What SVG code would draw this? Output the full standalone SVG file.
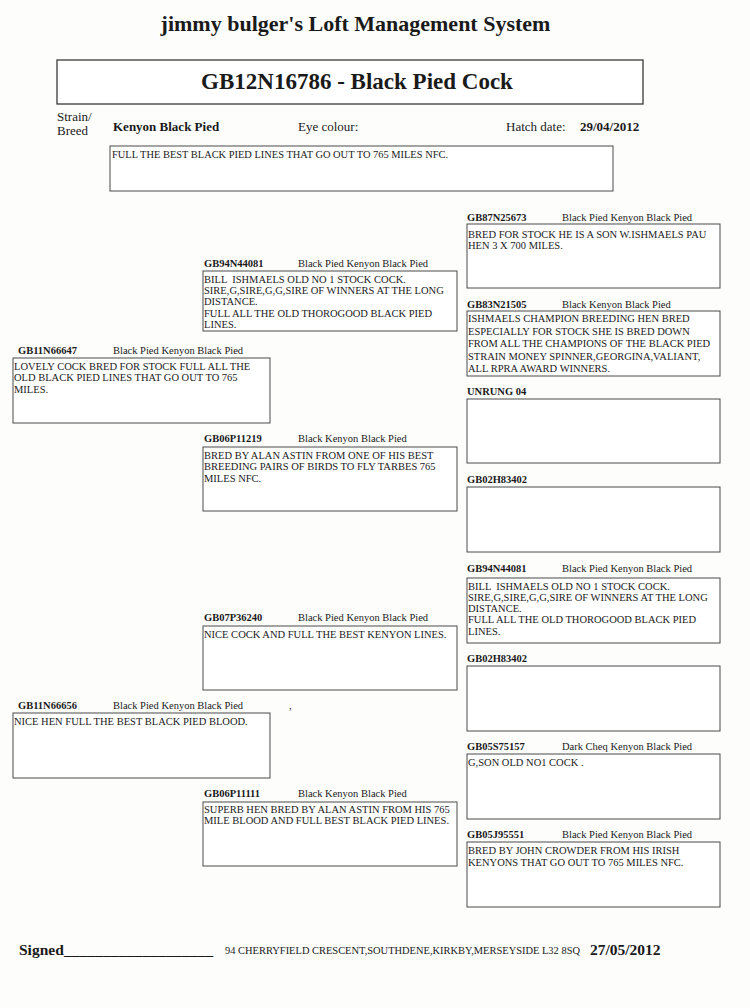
<svg xmlns="http://www.w3.org/2000/svg" width="750" height="1008" viewBox="0 0 750 1008">
<style>
text{font-family:"Liberation Serif","Times New Roman",serif;fill:#1a1a1a}
.ring{font-size:10.5px;font-weight:bold}
.breed{font-size:10.5px}
.body{font-size:10.5px;white-space:pre}
.box{fill:#ffffff;stroke:#4a4a4a;stroke-width:1}
.hd{font-size:13px}
.hdb{font-size:13px;font-weight:bold}
</style>
<rect x="0" y="0" width="750" height="1008" fill="#fdfdfc"/>
<g id="header">
<text x="355.5" y="31" font-size="22" font-weight="bold" text-anchor="middle">jimmy bulger's Loft Management System</text>
<rect x="57" y="60" width="586" height="44" fill="#ffffff" stroke="#3a3a3a" stroke-width="1.3"/>
<text x="357" y="89" font-size="23" font-weight="bold" text-anchor="middle">GB12N16786 - Black Pied Cock</text>
<text x="57" y="121" class="hd">Strain/</text>
<text x="57" y="135" class="hd">Breed</text>
<text x="113" y="131" class="hdb">Kenyon Black Pied</text>
<text x="298" y="131" class="hd">Eye colour:</text>
<text x="506" y="131" class="hd">Hatch date:</text>
<text x="580" y="131" class="hdb">29/04/2012</text>
<rect x="110" y="146" width="503" height="45" class="box"/>
<text x="112" y="158" font-size="9.6" textLength="336" lengthAdjust="spacingAndGlyphs">FULL THE BEST BLACK PIED LINES THAT GO OUT TO 765 MILES NFC.</text>
</g>
<g id="connectors"></g>
<g id="L1">
<text x="18" y="353.5" class="ring">GB11N66647</text>
<text x="113" y="353.5" class="breed">Black Pied Kenyon Black Pied</text>
<rect x="13" y="358" width="257" height="65" class="box"/>
<text x="14" y="369.5" class="body">LOVELY COCK BRED FOR STOCK FULL ALL THE</text>
<text x="14" y="381" class="body">OLD BLACK PIED LINES THAT GO OUT TO 765</text>
<text x="14" y="392.5" class="body">MILES.</text>
</g>
<g id="L2">
<text x="18" y="708.5" class="ring">GB11N66656</text>
<text x="113" y="708.5" class="breed">Black Pied Kenyon Black Pied</text>
<text x="289" y="708.5" class="breed">,</text>
<rect x="13" y="713" width="257" height="65" class="box"/>
<text x="14" y="725" class="body">NICE HEN FULL THE BEST BLACK PIED BLOOD.</text>
</g>
<g id="M1">
<text x="204" y="266.5" class="ring">GB94N44081</text>
<text x="298" y="266.5" class="breed">Black Pied Kenyon Black Pied</text>
<rect x="203" y="271" width="254" height="60" class="box"/>
<text x="204" y="283" class="body">BILL  ISHMAELS OLD NO 1 STOCK COCK.</text>
<text x="204" y="294.2" class="body">SIRE,G,SIRE,G,G,SIRE OF WINNERS AT THE LONG</text>
<text x="204" y="305.4" class="body">DISTANCE.</text>
<text x="204" y="316.6" class="body">FULL ALL THE OLD THOROGOOD BLACK PIED</text>
<text x="204" y="327.8" class="body">LINES.</text>
</g>
<g id="M2">
<text x="204" y="441.5" class="ring">GB06P11219</text>
<text x="298" y="441.5" class="breed">Black Kenyon Black Pied</text>
<rect x="203" y="447" width="254" height="64" class="box"/>
<text x="204" y="458.5" class="body">BRED BY ALAN ASTIN FROM ONE OF HIS BEST</text>
<text x="204" y="470" class="body">BREEDING PAIRS OF BIRDS TO FLY TARBES 765</text>
<text x="204" y="481.5" class="body">MILES NFC.</text>
</g>
<g id="M3">
<text x="204" y="620.5" class="ring">GB07P36240</text>
<text x="298" y="620.5" class="breed">Black Pied Kenyon Black Pied</text>
<rect x="203" y="626" width="254" height="64" class="box"/>
<text x="204" y="637.5" class="body">NICE COCK AND FULL THE BEST KENYON LINES.</text>
</g>
<g id="M4">
<text x="204" y="796.5" class="ring">GB06P11111</text>
<text x="298" y="796.5" class="breed">Black Kenyon Black Pied</text>
<rect x="203" y="802" width="254" height="64" class="box"/>
<text x="204" y="813" class="body">SUPERB HEN BRED BY ALAN ASTIN FROM HIS 765</text>
<text x="204" y="824.3" class="body">MILE BLOOD AND FULL BEST BLACK PIED LINES.</text>
</g>
<g id="R1">
<text x="467" y="221" class="ring">GB87N25673</text>
<text x="562" y="221" class="breed">Black Pied Kenyon Black Pied</text>
<rect x="467" y="224" width="253" height="64" class="box"/>
<text x="468" y="237.5" class="body">BRED FOR STOCK HE IS A SON W.ISHMAELS PAU</text>
<text x="468" y="248.5" class="body">HEN 3 X 700 MILES.</text>
</g>
<g id="R2">
<text x="467" y="308" class="ring">GB83N21505</text>
<text x="562" y="308" class="breed">Black Kenyon Black Pied</text>
<rect x="467" y="311" width="253" height="65" class="box"/>
<text x="468" y="322" class="body">ISHMAELS CHAMPION BREEDING HEN BRED</text>
<text x="468" y="334.5" class="body">ESPECIALLY FOR STOCK SHE IS BRED DOWN</text>
<text x="468" y="347" class="body">FROM ALL THE CHAMPIONS OF THE BLACK PIED</text>
<text x="468" y="359.5" class="body">STRAIN MONEY SPINNER,GEORGINA,VALIANT,</text>
<text x="468" y="372" class="body">ALL RPRA AWARD WINNERS.</text>
</g>
<g id="R3">
<text x="467" y="395" class="ring">UNRUNG 04</text>
<rect x="467" y="399" width="253" height="64" class="box"/>
</g>
<g id="R4">
<text x="467" y="483" class="ring">GB02H83402</text>
<rect x="467" y="487" width="253" height="65" class="box"/>
</g>
<g id="R5">
<text x="467" y="572" class="ring">GB94N44081</text>
<text x="562" y="572" class="breed">Black Pied Kenyon Black Pied</text>
<rect x="467" y="578" width="253" height="65" class="box"/>
<text x="468" y="589.5" class="body">BILL  ISHMAELS OLD NO 1 STOCK COCK.</text>
<text x="468" y="600.8" class="body">SIRE,G,SIRE,G,G,SIRE OF WINNERS AT THE LONG</text>
<text x="468" y="612.1" class="body">DISTANCE.</text>
<text x="468" y="623.4" class="body">FULL ALL THE OLD THOROGOOD BLACK PIED</text>
<text x="468" y="634.7" class="body">LINES.</text>
</g>
<g id="R6">
<text x="467" y="662" class="ring">GB02H83402</text>
<rect x="467" y="666" width="253" height="65" class="box"/>
</g>
<g id="R7">
<text x="467" y="750" class="ring">GB05S75157</text>
<text x="562" y="750" class="breed">Dark Cheq Kenyon Black Pied</text>
<rect x="467" y="754" width="253" height="65" class="box"/>
<text x="468" y="765.5" class="body">G,SON OLD NO1 COCK .</text>
</g>
<g id="R8">
<text x="467" y="838" class="ring">GB05J95551</text>
<text x="562" y="838" class="breed">Black Pied Kenyon Black Pied</text>
<rect x="467" y="842" width="253" height="65" class="box"/>
<text x="468" y="853.5" class="body">BRED BY JOHN CROWDER FROM HIS IRISH</text>
<text x="468" y="866" class="body">KENYONS THAT GO OUT TO 765 MILES NFC.</text>
</g>
<g id="footer">
<text x="19" y="955" font-size="15.5" font-weight="bold">Signed<tspan x="64" textLength="149" lengthAdjust="spacingAndGlyphs">___________________</tspan></text>
<text x="225" y="954" font-size="10" textLength="355" lengthAdjust="spacingAndGlyphs">94 CHERRYFIELD CRESCENT,SOUTHDENE,KIRKBY,MERSEYSIDE L32 8SQ</text>
<text x="590" y="955" font-size="15.5" font-weight="bold">27/05/2012</text>
</g>
</svg>
